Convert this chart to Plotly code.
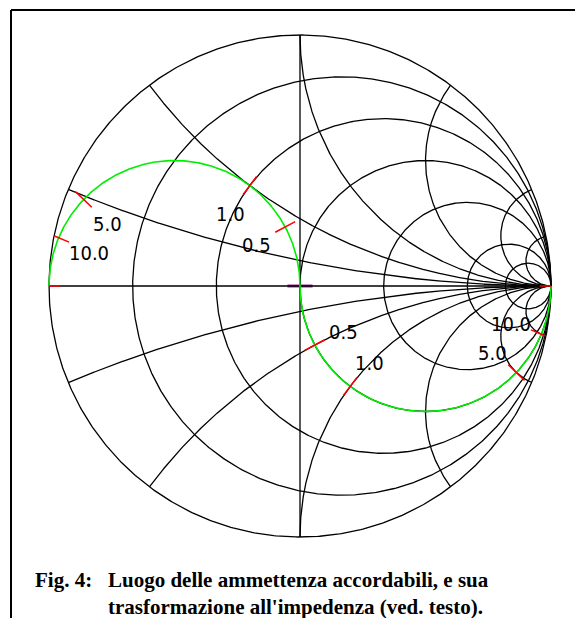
import numpy as np
import plotly.graph_objects as go

# ---- chart data ----
R_CIRCLES = [0.0, 0.2, 0.5, 1.0, 2.0, 5.0, 10.0]          # constant-resistance circles
X_ARCS = [0.0, 0.2, 0.5, 1.0, 2.0, 5.0, 10.0]             # constant-reactance arcs (+/-)
LOCUS_R = 1.0                                             # locus: z = 1 - j v
LOCUS_TICKS = [0.5, 1.0, 5.0, 10.0]                       # marked values of v
LOCUS_LABELS = ["0.5", "1.0", "5.0", "10.0"]
CAPTION_NUM = "<b>Fig. 4:</b>"
CAPTION_TEXT = "<b>Luogo delle ammettenza accordabili, e sua<br>trasformazione all'impedenza (ved. testo).</b>"

W, H = 575, 618
CX, CY, RPX = 300.0, 286.0, 251.0   # placement of the unit circle in the page

def gamma(z):
    return (z - 1) / (z + 1)

fig = go.Figure()
BLACK = dict(color="black", width=1.3)

def add_line(xs, ys, line):
    fig.add_trace(go.Scatter(x=xs, y=ys, mode="lines", line=line,
                             hoverinfo="skip", showlegend=False))

TH = 0.045

def tick_segment(p, c, h):
    u = p - c
    u = u / abs(u)
    s = np.linspace(-h, h, 41)
    pts = p + s * u
    pts = pts[np.abs(pts) <= 1.0 + 1e-9]
    return pts

# tick at v = 0 (centre), drawn first, under the grid
cen = tick_segment(gamma(complex(LOCUS_R, 0.0)), 0.5 + 0j, 0.05)
add_line(cen.real, cen.imag, dict(color="#9a2a9a", width=3))

# resistance circles
th = np.linspace(0, 2 * np.pi, 721)
for r in R_CIRCLES:
    c = r / (1 + r)
    rad = 1 / (1 + r)
    add_line(c + rad * np.cos(th), rad * np.sin(th), BLACK)

# reactance arcs
t = np.linspace(0, np.pi / 2, 1500)
rr = np.tan(t)
for x in X_ARCS:
    signs = [1] if x == 0 else [1, -1]
    for sgn in signs:
        g = gamma(rr + 1j * sgn * x)
        add_line(g.real, g.imag, BLACK)

# vertical line through the chart centre
add_line([0.0, 0.0], [-1.0, 1.0], BLACK)

# locus (green): impedance side z = 1 - j v and its admittance image -Gamma
v = np.tan(np.linspace(0, np.pi / 2, 800))
gz = gamma(LOCUS_R - 1j * v)
GREEN = dict(color="#00ee00", width=1.6)
add_line(gz.real, gz.imag, GREEN)
add_line(-gz.real, -gz.imag, GREEN)

# red ticks
RED = dict(color="#ff0000", width=1.5)
for val in LOCUS_TICKS:
    p = gamma(LOCUS_R - 1j * val)
    for pp, cc in ((p, 0.5 + 0j), (-p, -0.5 + 0j)):
        seg = tick_segment(pp, cc, TH)
        add_line(seg.real, seg.imag, RED)
# ends (v -> infinity)
for pp, cc in ((1 + 0j, 0.5 + 0j), (-1 + 0j, -0.5 + 0j)):
    seg = tick_segment(pp, cc, TH)
    add_line(seg.real, seg.imag, RED)

# labels
annotations = []
LFONT = dict(family="Liberation Sans Narrow, DejaVu Sans Condensed, Liberation Sans, sans-serif",
             size=20, color="black")
for val, lab in zip(LOCUS_TICKS, LOCUS_LABELS):
    p = gamma(LOCUS_R - 1j * val)
    for pp, cc in ((p, 0.5 + 0j), (-p, -0.5 + 0j)):
        u = (cc - pp) / abs(cc - pp)
        q = pp + 0.13 * u - 0.01j
        annotations.append(dict(x=q.real, y=q.imag, xref="x", yref="y", text=lab,
                                showarrow=False, font=LFONT,
                                xanchor="center", yanchor="middle"))

CFONT = dict(family="Liberation Serif, Times New Roman, serif", size=21, color="black")
annotations.append(dict(x=33 / W, y=1 - 566 / H, xref="paper", yref="paper",
                        text=CAPTION_NUM, showarrow=False, font=CFONT,
                        xanchor="left", yanchor="top", align="left"))
annotations.append(dict(x=106 / W, y=1 - 566 / H, xref="paper", yref="paper",
                        text=CAPTION_TEXT, showarrow=False, font=CFONT,
                        xanchor="left", yanchor="top", align="left"))

shapes = [
    dict(type="line", xref="paper", yref="paper", x0=11 / W, x1=11 / W,
         y0=1 - 10 / H, y1=0, line=dict(color="black", width=2)),
    dict(type="line", xref="paper", yref="paper", x0=11 / W, x1=1,
         y0=1 - 10 / H, y1=1 - 10 / H, line=dict(color="black", width=2)),
]

fig.update_layout(
    width=W, height=H,
    margin=dict(l=0, r=0, t=0, b=0),
    paper_bgcolor="white", plot_bgcolor="white",
    xaxis=dict(range=[-CX / RPX, (W - CX) / RPX], visible=False, fixedrange=True),
    yaxis=dict(range=[-(H - CY) / RPX, CY / RPX], visible=False, fixedrange=True),
    annotations=annotations, shapes=shapes,
    showlegend=False,
)

fig.write_html(
    "out.html",
    config={"displayModeBar": False},
    post_script="document.body.style.margin='0';document.body.style.padding='0';"
                "document.body.style.overflow='hidden';",
)
